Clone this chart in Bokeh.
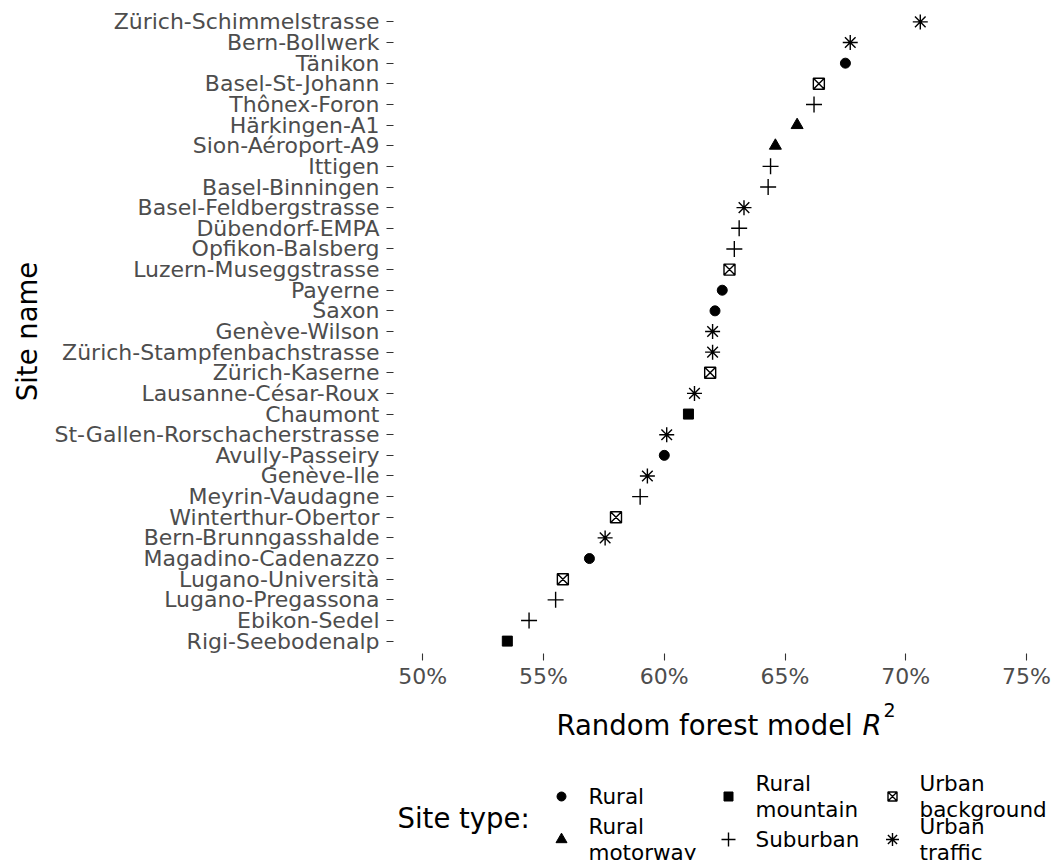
from bokeh.plotting import figure
from bokeh.models import FactorRange, Range1d, NumeralTickFormatter, FixedTicker, ColumnDataSource
from bokeh.layouts import column
from bokeh.embed import file_html
from bokeh.resources import INLINE
from bokeh.core.properties import value

# ---------------- data (top to bottom as in the chart) ----------------
sites = ["Zürich-Schimmelstrasse", "Bern-Bollwerk", "Tänikon", "Basel-St-Johann",
         "Thônex-Foron", "Härkingen-A1", "Sion-Aéroport-A9", "Ittigen",
         "Basel-Binningen", "Basel-Feldbergstrasse", "Dübendorf-EMPA",
         "Opfikon-Balsberg", "Luzern-Museggstrasse", "Payerne", "Saxon",
         "Genève-Wilson", "Zürich-Stampfenbachstrasse", "Zürich-Kaserne",
         "Lausanne-César-Roux", "Chaumont", "St-Gallen-Rorschacherstrasse",
         "Avully-Passeiry", "Genève-Ile", "Meyrin-Vaudagne", "Winterthur-Obertor",
         "Bern-Brunngasshalde", "Magadino-Cadenazzo", "Lugano-Università",
         "Lugano-Pregassona", "Ebikon-Sedel", "Rigi-Seebodenalp"]
r2 = [0.706, 0.677, 0.675, 0.664, 0.662, 0.655, 0.646, 0.644, 0.643, 0.633,
      0.631, 0.629, 0.627, 0.624, 0.621, 0.620, 0.620, 0.619, 0.6125, 0.610,
      0.601, 0.600, 0.593, 0.590, 0.580, 0.5755, 0.569, 0.558, 0.555, 0.544, 0.535]
site_types = ["Urban traffic", "Urban traffic", "Rural", "Urban background",
              "Suburban", "Rural motorway", "Rural motorway", "Suburban",
              "Suburban", "Urban traffic", "Suburban", "Suburban",
              "Urban background", "Rural", "Rural", "Urban traffic",
              "Urban traffic", "Urban background", "Urban traffic", "Rural mountain",
              "Urban traffic", "Rural", "Urban traffic", "Suburban",
              "Urban background", "Urban traffic", "Rural", "Urban background",
              "Suburban", "Suburban", "Rural mountain"]
type_levels = ["Rural", "Rural motorway", "Rural mountain", "Suburban",
               "Urban background", "Urban traffic"]
x_ticks = [0.50, 0.55, 0.60, 0.65, 0.70, 0.75]

# ---------------- styles ----------------
FONT = "DejaVu Sans"
TITLE_SIZE = "27.5px"
marker_style = {
    "Rural":            dict(marker="circle", size=10, fill_color="black", line_color="black", line_width=1),
    "Rural motorway":   dict(marker="triangle", size=12, fill_color="black", line_color="black", line_width=1),
    "Rural mountain":   dict(marker="square", size=10, fill_color="black", line_color="black", line_width=1),
    "Suburban":         dict(marker="cross", size=16, fill_color=None, line_color="black", line_width=1.4),
    "Urban background": dict(marker="square_x", size=11, fill_color=None, line_color="black", line_width=1.4),
    "Urban traffic":    dict(marker="asterisk", size=15, fill_color=None, line_color="black", line_width=1.4),
}

# ---------------- layout geometry (page pixels) ----------------
LEFT, FW, RIGHT = 393, 658, 0
TOP, FH, BOTTOM = 9, 644, 40
MAIN_H = TOP + FH + BOTTOM          # 693
PAGE_H = 860
PAD = 0.1                           # categorical padding (factor units) on each side
X0 = 0.48787                        # left edge of the x range
PX_PER_UNIT = 2415.0                # pixels per unit of R^2
x_range = Range1d(X0, X0 + FW / PX_PER_UNIT)

def px_to_x(px):
    """page-pixel x -> x data coordinate (layout of the annotation panel)"""
    return X0 + (px - LEFT) / PX_PER_UNIT

p = figure(frame_width=FW, frame_height=FH, x_range=x_range,
           y_range=FactorRange(factors=sites[::-1], range_padding=PAD,
                               range_padding_units="absolute"),
           min_border_left=LEFT, min_border_right=RIGHT, min_border_top=TOP,
           min_border_bottom=BOTTOM,
           output_backend="svg", toolbar_location=None)

for t in type_levels:
    xs = [v for v, tt in zip(r2, site_types) if tt == t]
    ys = [s for s, tt in zip(sites, site_types) if tt == t]
    src = ColumnDataSource(dict(x=xs, y=ys))
    p.scatter("x", "y", source=src, **marker_style[t])

p.xgrid.visible = False
p.ygrid.visible = False
p.outline_line_color = None

for ax in (p.xaxis[0], p.yaxis[0]):
    ax.axis_line_color = None
    ax.major_tick_line_color = "#333333"
    ax.major_tick_line_width = 1.1
    ax.major_tick_in = 0
    ax.major_tick_out = 7
    ax.minor_tick_line_color = None
    ax.major_label_text_font = FONT
    ax.major_label_text_font_size = "22px"
    ax.major_label_text_color = "#4D4D4D"
    ax.axis_label_text_font = FONT
    ax.axis_label_text_font_style = "normal"
    ax.axis_label_text_color = "black"
    ax.axis_label_text_font_size = TITLE_SIZE

p.xaxis.ticker = FixedTicker(ticks=x_ticks)
p.xaxis.formatter = NumeralTickFormatter(format="0%")
p.xaxis.major_label_standoff = 3
p.yaxis.major_label_standoff = 7
p.yaxis.axis_label = "Site name"
p.yaxis.axis_label_standoff = 9

# ---------------- lower panel: x title + legend (y in page pixels) ----------------
low = figure(frame_width=FW, frame_height=PAGE_H - MAIN_H,
             x_range=x_range, y_range=Range1d(PAGE_H, MAIN_H),
             min_border_left=LEFT, min_border_right=RIGHT, min_border_top=0,
             min_border_bottom=0, output_backend="svg", toolbar_location=None)
low.axis.visible = False
low.xgrid.visible = False
low.ygrid.visible = False
low.outline_line_color = None

# x axis title: "Random forest model R^2" with italic R and superscript 2
TITLE_PX, TITLE_BASE = 556, 724
R_PX = 862
low.text(x=[px_to_x(TITLE_PX)], y=[TITLE_BASE], text=["Random forest model"],
         text_font=value(FONT), text_font_size=TITLE_SIZE, text_align="left",
         text_baseline="alphabetic", text_color="black")
low.text(x=[px_to_x(R_PX)], y=[TITLE_BASE], text=["R"],
         text_font=value(FONT), text_font_size=TITLE_SIZE, text_font_style="italic",
         text_align="left", text_baseline="alphabetic", text_color="black")
low.text(x=[px_to_x(R_PX + 21)], y=[TITLE_BASE - 15], text=["2"],
         text_font=value(FONT), text_font_size="19px", text_align="left",
         text_baseline="alphabetic", text_color="black")

# legend
col_px = [561, 728, 892]
row_py = [796, 839]
low.text(x=[px_to_x(397)], y=[817], text=["Site type:"], text_font=value(FONT),
         text_font_size=TITLE_SIZE, text_baseline="middle", text_align="left", text_color="black")
legend_marker_size = {"Rural": 9, "Rural motorway": 11, "Rural mountain": 9,
                      "Suburban": 14, "Urban background": 9, "Urban traffic": 13}
for i, t in enumerate(type_levels):
    cx = col_px[i // 2]
    cy = row_py[i % 2]
    st = dict(marker_style[t])
    st["size"] = legend_marker_size[t]
    low.scatter(x=[px_to_x(cx)], y=[cy], **st)
    low.text(x=[px_to_x(cx + 27)], y=[cy], text=[t.replace(" ", "\n")], text_font=value(FONT),
             text_font_size="21.5px", text_baseline="middle", text_align="left",
             text_color="black", text_line_height=1.07)

layout = column(p, low, spacing=0)
open("out.html", "w").write(file_html(layout, INLINE))
